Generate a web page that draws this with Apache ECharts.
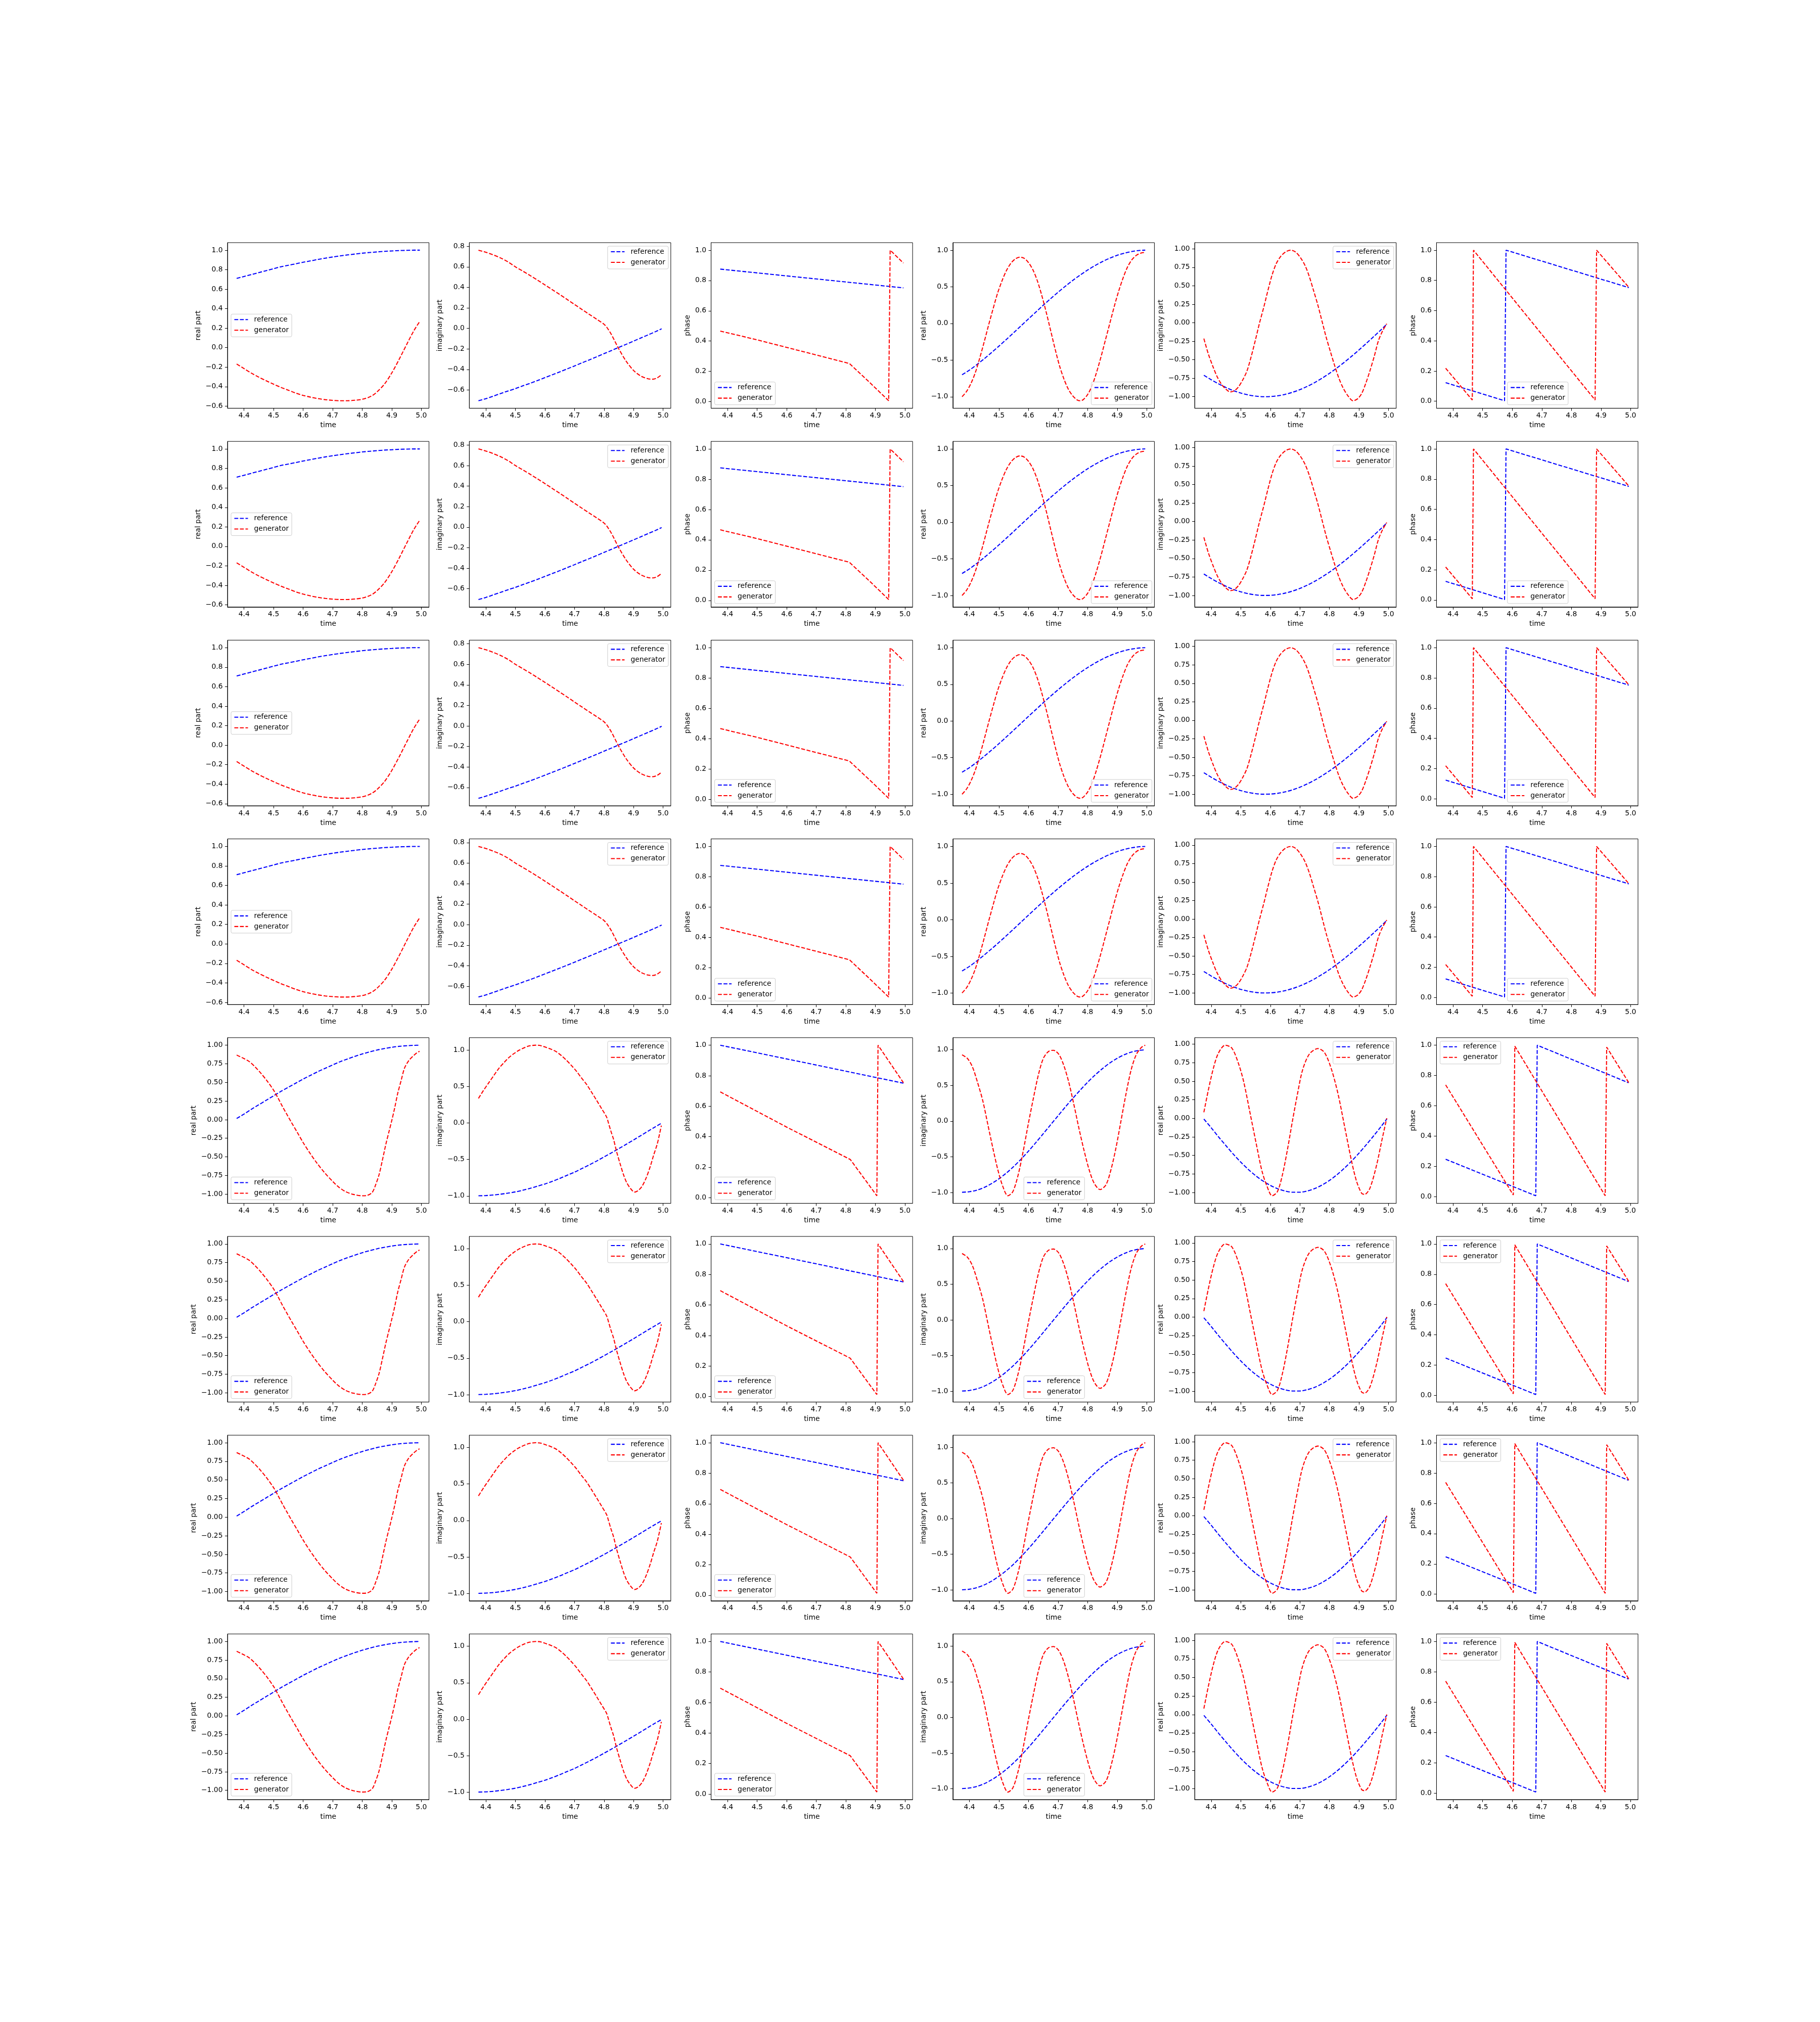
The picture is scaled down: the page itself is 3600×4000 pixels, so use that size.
<!DOCTYPE html>
<html><head><meta charset="utf-8">
<script src="https://cdn.jsdelivr.net/npm/echarts@6/dist/echarts.min.js"></script>
<style>html,body{margin:0;padding:0;background:#fff}#chart{width:3600px;height:4000px;background:#fff}</style>
</head><body><div id="chart"></div>
<script>
// ---------------- data ----------------
const seriesNames = ['reference', 'generator'];
const timeTicks = [4.4, 4.5, 4.6, 4.7, 4.8, 4.9, 5.0];
const xName = 'time';
const yNamesA = ['real part', 'imaginary part', 'phase', 'real part', 'imaginary part', 'phase'];
const yNamesB = ['real part', 'imaginary part', 'phase', 'imaginary part', 'real part', 'phase'];
const yTicksA = [
  [-0.6, -0.4, -0.2, 0, 0.2, 0.4, 0.6, 0.8, 1.0],
  [-0.6, -0.4, -0.2, 0, 0.2, 0.4, 0.6, 0.8],
  [0, 0.2, 0.4, 0.6, 0.8, 1.0],
  [-1.0, -0.5, 0, 0.5, 1.0],
  [-1.0, -0.75, -0.5, -0.25, 0, 0.25, 0.5, 0.75, 1.0],
  [0, 0.2, 0.4, 0.6, 0.8, 1.0]
];
const yTicksB = [
  [-1.0, -0.75, -0.5, -0.25, 0, 0.25, 0.5, 0.75, 1.0],
  [-1.0, -0.5, 0, 0.5, 1.0],
  [0, 0.2, 0.4, 0.6, 0.8, 1.0],
  [-1.0, -0.5, 0, 0.5, 1.0],
  [-1.0, -0.75, -0.5, -0.25, 0, 0.25, 0.5, 0.75, 1.0],
  [0, 0.2, 0.4, 0.6, 0.8, 1.0]
];
const yDecimalsA = [1, 1, 1, 1, 2, 1];
const yDecimalsB = [2, 1, 1, 1, 2, 1];

// group A (rows 1-4)
const refA1 = [[4.375,0.71],[4.40,0.73],[4.425,0.75],[4.45,0.77],[4.475,0.79],[4.50,0.81],[4.525,0.83],[4.55,0.845],[4.575,0.86],[4.60,0.876],[4.625,0.89],[4.65,0.905],[4.675,0.918],[4.70,0.93],[4.725,0.941],[4.75,0.951],[4.775,0.96],[4.80,0.969],[4.825,0.976],[4.85,0.982],[4.875,0.988],[4.90,0.992],[4.925,0.996],[4.95,0.998],[4.975,1.0],[4.995,1.0]];
const genA1 = [[4.375,-0.168],[4.40,-0.215],[4.425,-0.262],[4.45,-0.303],[4.475,-0.34],[4.50,-0.375],[4.525,-0.408],[4.55,-0.437],[4.575,-0.466],[4.60,-0.49],[4.625,-0.508],[4.65,-0.523],[4.675,-0.534],[4.70,-0.541],[4.725,-0.545],[4.75,-0.545],[4.775,-0.54],[4.80,-0.53],[4.82,-0.512],[4.835,-0.49],[4.85,-0.455],[4.875,-0.375],[4.90,-0.26],[4.925,-0.12],[4.95,0.03],[4.975,0.175],[4.995,0.27]];
const refA2 = [[4.375,-0.705],[4.40,-0.685],[4.425,-0.66],[4.45,-0.635],[4.475,-0.61],[4.50,-0.587],[4.525,-0.56],[4.55,-0.535],[4.575,-0.508],[4.60,-0.48],[4.625,-0.452],[4.65,-0.424],[4.675,-0.395],[4.70,-0.366],[4.725,-0.336],[4.75,-0.307],[4.775,-0.277],[4.80,-0.246],[4.825,-0.216],[4.85,-0.185],[4.875,-0.155],[4.90,-0.124],[4.925,-0.093],[4.95,-0.062],[4.975,-0.031],[4.995,-0.004]];
const genA2 = [[4.375,0.762],[4.40,0.742],[4.425,0.716],[4.45,0.686],[4.475,0.648],[4.50,0.60],[4.525,0.558],[4.55,0.515],[4.575,0.47],[4.60,0.424],[4.625,0.377],[4.65,0.33],[4.675,0.282],[4.70,0.233],[4.725,0.185],[4.75,0.137],[4.775,0.09],[4.80,0.04],[4.81,0.008],[4.825,-0.06],[4.85,-0.2],[4.875,-0.32],[4.90,-0.41],[4.925,-0.465],[4.95,-0.492],[4.965,-0.495],[4.98,-0.482],[4.995,-0.45]];
const refA3 = [[4.375,0.875],[4.70,0.81],[4.995,0.751]];
const genA3 = [[4.375,0.466],[4.50,0.408],[4.65,0.333],[4.812,0.252],[4.88,0.128],[4.945,0.006],[4.95,1.0],[4.995,0.915]];
const refA4 = [[4.375,-0.70],[4.40,-0.637],[4.425,-0.562],[4.45,-0.482],[4.475,-0.397],[4.50,-0.309],[4.525,-0.218],[4.55,-0.125],[4.575,-0.031],[4.60,0.063],[4.625,0.156],[4.65,0.249],[4.675,0.339],[4.70,0.426],[4.725,0.509],[4.75,0.588],[4.775,0.661],[4.80,0.729],[4.825,0.79],[4.85,0.844],[4.875,0.891],[4.90,0.93],[4.925,0.96],[4.95,0.982],[4.975,0.996],[4.995,1.0]];
const genA4 = [[4.375,-1.0],[4.39,-0.93],[4.405,-0.82],[4.42,-0.67],[4.435,-0.47],[4.45,-0.25],[4.465,-0.02],[4.48,0.2],[4.495,0.41],[4.51,0.58],[4.525,0.72],[4.54,0.82],[4.555,0.88],[4.57,0.905],[4.585,0.89],[4.60,0.83],[4.615,0.73],[4.63,0.58],[4.645,0.38],[4.66,0.15],[4.675,-0.1],[4.69,-0.35],[4.705,-0.58],[4.72,-0.76],[4.735,-0.9],[4.75,-0.99],[4.765,-1.045],[4.775,-1.055],[4.785,-1.04],[4.80,-0.97],[4.815,-0.85],[4.83,-0.67],[4.845,-0.46],[4.86,-0.23],[4.875,0.0],[4.89,0.23],[4.905,0.44],[4.92,0.62],[4.935,0.77],[4.95,0.87],[4.965,0.93],[4.98,0.96],[4.995,0.97]];
const refA5 = [[4.375,-0.71],[4.40,-0.771],[4.425,-0.827],[4.45,-0.876],[4.475,-0.918],[4.50,-0.951],[4.525,-0.976],[4.55,-0.992],[4.575,-1.0],[4.60,-0.998],[4.625,-0.988],[4.65,-0.969],[4.675,-0.941],[4.70,-0.905],[4.725,-0.861],[4.75,-0.809],[4.775,-0.75],[4.80,-0.685],[4.825,-0.613],[4.85,-0.536],[4.875,-0.454],[4.90,-0.368],[4.925,-0.279],[4.95,-0.187],[4.975,-0.094],[4.995,-0.015]];
const genA5 = [[4.375,-0.214],[4.39,-0.42],[4.407,-0.606],[4.42,-0.73],[4.435,-0.834],[4.45,-0.9],[4.464,-0.936],[4.478,-0.92],[4.492,-0.868],[4.507,-0.77],[4.521,-0.651],[4.535,-0.46],[4.549,-0.241],[4.563,-0.01],[4.578,0.214],[4.592,0.44],[4.606,0.647],[4.62,0.8],[4.635,0.897],[4.652,0.96],[4.669,0.982],[4.686,0.955],[4.703,0.875],[4.718,0.77],[4.732,0.624],[4.746,0.44],[4.761,0.237],[4.775,0.02],[4.789,-0.196],[4.804,-0.4],[4.818,-0.583],[4.832,-0.75],[4.846,-0.879],[4.863,-0.99],[4.88,-1.055],[4.895,-1.03],[4.909,-0.959],[4.923,-0.82],[4.937,-0.651],[4.952,-0.45],[4.966,-0.241],[4.98,-0.11],[4.994,-0.014]];
const refA6 = [[4.375,0.123],[4.574,0.003],[4.579,1.0],[4.994,0.752]];
const genA6 = [[4.375,0.218],[4.465,0.008],[4.469,1.0],[4.88,0.008],[4.885,1.0],[4.994,0.754]];

// group B (rows 5-8)
const refB1 = [[4.375,0.015],[4.40,0.075],[4.425,0.14],[4.45,0.2],[4.475,0.26],[4.50,0.32],[4.525,0.38],[4.55,0.435],[4.575,0.49],[4.60,0.545],[4.625,0.595],[4.65,0.645],[4.675,0.69],[4.70,0.735],[4.725,0.778],[4.75,0.815],[4.775,0.85],[4.80,0.882],[4.825,0.91],[4.85,0.935],[4.875,0.955],[4.90,0.972],[4.925,0.985],[4.95,0.993],[4.975,0.998],[4.995,1.0]];
const genB1 = [[4.375,0.868],[4.395,0.83],[4.417,0.782],[4.437,0.71],[4.457,0.623],[4.478,0.52],[4.50,0.396],[4.515,0.29],[4.531,0.169],[4.545,0.07],[4.56,-0.035],[4.58,-0.17],[4.60,-0.308],[4.623,-0.45],[4.646,-0.58],[4.672,-0.71],[4.70,-0.83],[4.72,-0.905],[4.743,-0.966],[4.77,-1.005],[4.80,-1.023],[4.817,-1.018],[4.834,-0.977],[4.845,-0.88],[4.857,-0.739],[4.868,-0.55],[4.88,-0.33],[4.89,-0.17],[4.90,-0.012],[4.91,0.16],[4.92,0.351],[4.932,0.53],[4.943,0.691],[4.957,0.79],[4.971,0.85],[4.984,0.895],[4.994,0.918]];
const refB2 = [[4.375,-0.998],[4.40,-0.995],[4.425,-0.988],[4.45,-0.976],[4.475,-0.962],[4.50,-0.945],[4.525,-0.922],[4.55,-0.896],[4.575,-0.866],[4.60,-0.836],[4.625,-0.8],[4.65,-0.76],[4.675,-0.717],[4.70,-0.675],[4.725,-0.625],[4.75,-0.575],[4.775,-0.522],[4.80,-0.466],[4.825,-0.41],[4.85,-0.352],[4.875,-0.293],[4.90,-0.233],[4.925,-0.172],[4.95,-0.11],[4.975,-0.05],[4.995,-0.003]];
const genB2 = [[4.375,0.336],[4.392,0.445],[4.41,0.551],[4.427,0.65],[4.444,0.747],[4.461,0.825],[4.478,0.896],[4.495,0.95],[4.512,0.995],[4.53,1.03],[4.547,1.055],[4.569,1.065],[4.587,1.058],[4.604,1.035],[4.621,1.01],[4.638,0.977],[4.655,0.925],[4.672,0.862],[4.689,0.79],[4.706,0.712],[4.723,0.62],[4.741,0.528],[4.758,0.42],[4.775,0.309],[4.792,0.195],[4.809,0.078],[4.815,0.0],[4.823,-0.11],[4.832,-0.221],[4.843,-0.4],[4.855,-0.567],[4.866,-0.71],[4.877,-0.82],[4.89,-0.9],[4.903,-0.947],[4.916,-0.925],[4.929,-0.866],[4.943,-0.75],[4.957,-0.59],[4.968,-0.44],[4.98,-0.29],[4.988,-0.15],[4.994,-0.037]];
const refB3 = [[4.375,1.0],[4.70,0.87],[4.995,0.751]];
const genB3 = [[4.375,0.694],[4.60,0.463],[4.815,0.251],[4.86,0.132],[4.905,0.013],[4.909,1.0],[4.995,0.754]];
const refB4 = [[4.375,-0.998],[4.40,-0.99],[4.425,-0.968],[4.45,-0.93],[4.475,-0.876],[4.50,-0.808],[4.525,-0.728],[4.55,-0.636],[4.575,-0.532],[4.60,-0.42],[4.625,-0.3],[4.65,-0.176],[4.675,-0.05],[4.70,0.075],[4.725,0.2],[4.75,0.32],[4.775,0.435],[4.80,0.545],[4.825,0.645],[4.85,0.735],[4.875,0.815],[4.90,0.88],[4.925,0.932],[4.95,0.97],[4.975,0.992],[4.995,1.0]];
const genB4 = [[4.375,0.93],[4.393,0.879],[4.41,0.761],[4.427,0.548],[4.445,0.288],[4.462,-0.043],[4.479,-0.374],[4.496,-0.681],[4.513,-0.917],[4.53,-1.047],[4.547,-0.988],[4.565,-0.752],[4.582,-0.421],[4.599,-0.043],[4.616,0.312],[4.633,0.643],[4.65,0.879],[4.667,0.974],[4.684,0.993],[4.702,0.939],[4.719,0.785],[4.736,0.548],[4.753,0.241],[4.77,-0.09],[4.787,-0.397],[4.805,-0.681],[4.822,-0.87],[4.842,-0.96],[4.862,-0.894],[4.879,-0.681],[4.896,-0.374],[4.913,0.005],[4.93,0.383],[4.947,0.714],[4.964,0.927],[4.982,1.033],[4.995,1.064]];
const refB5 = [[4.375,-0.01],[4.40,-0.128],[4.425,-0.252],[4.45,-0.37],[4.475,-0.485],[4.50,-0.592],[4.525,-0.688],[4.55,-0.773],[4.575,-0.845],[4.60,-0.905],[4.625,-0.95],[4.65,-0.981],[4.675,-0.997],[4.70,-0.997],[4.725,-0.98],[4.75,-0.948],[4.775,-0.9],[4.80,-0.838],[4.825,-0.763],[4.85,-0.675],[4.875,-0.577],[4.90,-0.47],[4.925,-0.355],[4.95,-0.235],[4.975,-0.11],[4.995,-0.005]];
const genB5 = [[4.375,0.081],[4.39,0.377],[4.407,0.672],[4.424,0.877],[4.447,0.986],[4.47,0.945],[4.492,0.741],[4.51,0.49],[4.532,0.058],[4.555,-0.397],[4.572,-0.716],[4.589,-0.92],[4.606,-1.045],[4.624,-0.989],[4.641,-0.761],[4.658,-0.42],[4.675,-0.033],[4.692,0.331],[4.709,0.65],[4.732,0.866],[4.761,0.941],[4.783,0.889],[4.806,0.672],[4.829,0.331],[4.852,-0.124],[4.875,-0.579],[4.892,-0.852],[4.909,-1.011],[4.919,-1.027],[4.937,-0.943],[4.96,-0.625],[4.977,-0.306],[4.994,0.001]];
const refB6 = [[4.375,0.247],[4.68,0.006],[4.685,1.0],[4.994,0.752]];
const genB6 = [[4.375,0.738],[4.604,0.011],[4.609,0.994],[4.915,0.006],[4.92,0.987],[4.995,0.752]];

// legend placement per column: ul, ur, ll, lr, cl, lc
const legendLocA = ['cl', 'ur', 'll', 'lr', 'ur', 'lc'];
const legendLocB = ['ll', 'ur', 'll', 'lc', 'ur', 'ul'];

// ---------------- layout / styling ----------------
const refA = [refA1, refA2, refA3, refA4, refA5, refA6];
const genA = [genA1, genA2, genA3, genA4, genA5, genA6];
const refB = [refB1, refB2, refB3, refB4, refB5, refB6];
const genB = [genB1, genB2, genB3, genB4, genB5, genB6];
const curvyCol = [true, true, false, true, true, false];

const FONT = 'DejaVu Sans';
const FS = 13.9;
const NROWS = 8, NCOLS = 6;
const L0 = 450, T0 = 480;
const GW = 2790 / 7, GH = 3080 / 9.4;
const STEPX = GW * 1.2, STEPY = GH * 1.2;
const LEG_W = 118, LEG_H = 45, LEG_PAD = 7;
const BLUE = '#0000ff', RED = '#ff0000';
const DASH = [7.7, 3.3];

const mctx = document.createElement('canvas').getContext('2d');
mctx.font = FS + 'px "' + FONT + '"';
function fmt(v, d) { return (v < -1e-9 ? '\u2212' : '') + Math.abs(v).toFixed(d); }
function range(arrs) {
  let lo = Infinity, hi = -Infinity;
  arrs.forEach(a => a.forEach(p => { lo = Math.min(lo, p); hi = Math.max(hi, p); }));
  const s = hi - lo; return [lo - 0.05 * s, hi + 0.05 * s];
}

const grids = [], xAxes = [], yAxes = [], series = [], legends = [];
for (let r = 0; r < NROWS; r++) {
  const grpA = r < 4;
  for (let c = 0; c < NCOLS; c++) {
    const i = r * NCOLS + c;
    const ref = (grpA ? refA : refB)[c];
    const gen = (grpA ? genA : genB)[c];
    const ticks = (grpA ? yTicksA : yTicksB)[c];
    const dec = (grpA ? yDecimalsA : yDecimalsB)[c];
    const yName = (grpA ? yNamesA : yNamesB)[c];
    const loc = (grpA ? legendLocA : legendLocB)[c];
    const gx = L0 + c * STEPX, gy = T0 + r * STEPY;
    const xr = range([ref.map(p => p[0]), gen.map(p => p[0])]);
    const yr = range([ref.map(p => p[1]), gen.map(p => p[1])]);
    let lw = 0; ticks.forEach(t => { lw = Math.max(lw, mctx.measureText(fmt(t, dec)).width); });
    const nameGap = 9.72 + lw + 5.56 + 1.5;

    grids.push({ left: gx, top: gy, width: GW, height: GH, show: true, borderColor: '#000', borderWidth: 1,
      backgroundColor: 'rgba(0,0,0,0)', containLabel: false, outerBoundsMode: 'none' });
    xAxes.push({ gridIndex: i, type: 'value', min: xr[0], max: xr[1], scale: true,
      axisLine: { show: true, onZero: false, lineStyle: { color: '#000', width: 1 } },
      axisTick: { show: true, inside: false, length: 5, customValues: timeTicks, lineStyle: { color: '#000', width: 1 } },
      axisLabel: { show: true, customValues: timeTicks, formatter: v => fmt(v, 1), margin: 8, fontSize: FS, fontFamily: FONT, color: '#000' },
      splitLine: { show: false },
      name: xName, nameLocation: 'middle', nameGap: 27, nameTextStyle: { fontSize: FS, fontFamily: FONT, color: '#000' } });
    yAxes.push({ gridIndex: i, type: 'value', min: yr[0], max: yr[1], scale: true,
      axisLine: { show: true, onZero: false, lineStyle: { color: '#000', width: 1 } },
      axisTick: { show: true, inside: false, length: 5, customValues: ticks, lineStyle: { color: '#000', width: 1 } },
      axisLabel: { show: true, customValues: ticks, formatter: v => fmt(v, dec), margin: 9.5, fontSize: FS, fontFamily: FONT, color: '#000' },
      splitLine: { show: false },
      name: yName, nameLocation: 'middle', nameRotate: 90, nameGap: nameGap,
      nameTextStyle: { fontSize: FS, fontFamily: FONT, color: '#000' } });
    const sm = curvyCol[c] ? 0.3 : false;
    series.push({ type: 'line', name: seriesNames[0], xAxisIndex: i, yAxisIndex: i, data: ref, symbol: 'none', showSymbol: false,
      smooth: sm, lineStyle: { color: BLUE, width: 2.08, type: DASH }, itemStyle: { color: BLUE }, silent: true, z: 2 });
    series.push({ type: 'line', name: seriesNames[1], xAxisIndex: i, yAxisIndex: i, data: gen, symbol: 'none', showSymbol: false,
      smooth: sm, lineStyle: { color: RED, width: 2.08, type: DASH }, itemStyle: { color: RED }, silent: true, z: 3 });

    let lx, ly;
    if (loc[1] === 'l') lx = gx + LEG_PAD; else if (loc[1] === 'r') lx = gx + GW - LEG_PAD - LEG_W; else lx = gx + (GW - LEG_W) / 2;
    if (loc === 'cl') { lx = gx + LEG_PAD; ly = gy + (GH - LEG_H) / 2; }
    else if (loc[0] === 'u') ly = gy + LEG_PAD; else ly = gy + GH - LEG_PAD - LEG_H;
    if (loc === 'lc') lx = gx + (GW - LEG_W) / 2;
    legends.push({ data: seriesNames, left: lx, top: ly, orient: 'vertical', selectedMode: false,
      itemWidth: 27, itemHeight: 14, itemGap: 7, padding: [4, 6, 6, 5.5],
      itemStyle: { opacity: 0, borderWidth: 0 },
      lineStyle: { width: 2.08, type: DASH },
      backgroundColor: 'rgba(255,255,255,0.8)', borderColor: '#cccccc', borderWidth: 1, borderRadius: 3,
      textStyle: { fontSize: FS, fontFamily: FONT, color: '#000', padding: [0, 0, 0, 7] }, z: 10 });
  }
}

const chart = echarts.init(document.getElementById('chart'), null, { renderer: 'canvas', width: 3600, height: 4000 });
chart.setOption({ backgroundColor: '#ffffff', animation: false,
  grid: grids, xAxis: xAxes, yAxis: yAxes, series: series, legend: legends });
</script></body></html>
